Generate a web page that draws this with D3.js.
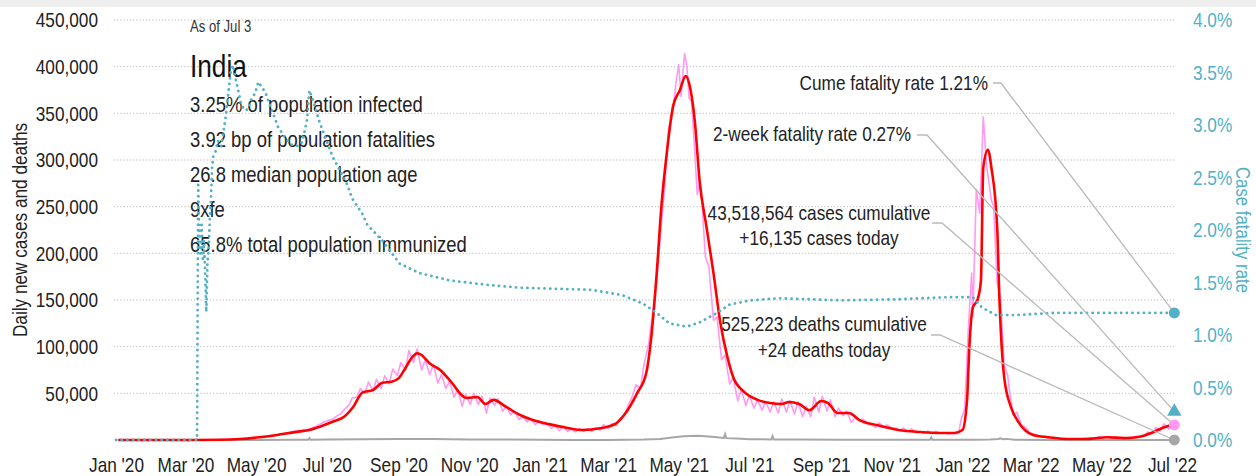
<!DOCTYPE html>
<html>
<head>
<meta charset="utf-8">
<script src="https://cdn.jsdelivr.net/npm/d3@7"></script>
<style>
  html, body { margin: 0; padding: 0; background: #fff; }
  svg { display: block; font-family: "Liberation Sans", Arial, sans-serif; }
</style>
</head>
<body>
<svg id="chart" width="1256" height="476"></svg>
<script>
// ---- India: daily new cases (7-day average), raw daily cases, daily deaths, cumulative fatality rate ----
const avgCases = [
  ["2020-01-03",0],["2020-03-01",10],["2020-04-01",250],["2020-04-17",1000],["2020-05-04",3000],
  ["2020-05-19",5400],["2020-06-02",8200],["2020-06-16",10700],["2020-06-25",14300],["2020-07-06",19600],
  ["2020-07-16",25000],["2020-07-24",35700],["2020-08-01",51000],["2020-08-10",53600],["2020-08-18",61400],
  ["2020-08-26",62500],["2020-09-01",66000],["2020-09-06",75000],["2020-09-13",89000],["2020-09-17",93000],
  ["2020-09-20",91800],["2020-09-28",82000],["2020-10-07",75000],["2020-10-15",64500],["2020-10-30",45000],
  ["2020-11-08",46000],["2020-11-15",38600],["2020-11-22",43000],["2020-12-03",35400],["2020-12-15",26800],
  ["2020-12-26",21400],["2021-01-09",17000],["2021-01-24",13200],["2021-02-07",10700],["2021-02-22",12500],
  ["2021-03-08",17900],["2021-03-15",27000],["2021-03-26",50000],["2021-04-03",72000],["2021-04-07",107000],
  ["2021-04-12",179000],["2021-04-16",250000],["2021-04-21",311000],["2021-04-26",357000],["2021-05-02",375000],
  ["2021-05-07",390000],["2021-05-10",382000],["2021-05-15",340000],["2021-05-19",278000],["2021-05-25",228000],
  ["2021-05-31",179000],["2021-06-06",125000],["2021-06-12",89000],["2021-06-17",67500],["2021-06-26",52000],
  ["2021-07-08",43000],["2021-07-19",39600],["2021-07-29",38600],["2021-08-04",40700],["2021-08-13",38600],
  ["2021-08-22",32000],["2021-09-01",41800],["2021-09-07",39600],["2021-09-15",29000],["2021-09-25",29000],
  ["2021-10-04",21400],["2021-10-19",16000],["2021-11-07",10700],["2021-11-25",8600],["2021-12-13",7500],
  ["2021-12-25",7500],["2022-01-01",10700],["2022-01-05",43000],["2022-01-07",100000],["2022-01-10",142000],
  ["2022-01-14",150000],["2022-01-17",171000],["2022-01-19",292000],["2022-01-23",311000],["2022-01-26",292000],
  ["2022-01-31",228000],["2022-02-02",150000],["2022-02-06",68000],["2022-02-12",35000],["2022-02-18",20000],
  ["2022-03-03",5400],["2022-03-16",3000],["2022-04-05",1000],["2022-04-21",1200],["2022-05-06",3000],
  ["2022-05-21",2000],["2022-06-03",3500],["2022-06-15",8600],["2022-06-25",14000],["2022-07-03",16500]
];

const dailyCases = [
  ["2020-01-03",0],["2020-03-01",0],["2020-03-20",60],["2020-04-01",440],["2020-04-08",600],["2020-04-15",1000],
  ["2020-04-22",1400],["2020-04-29",1800],["2020-05-04",3600],["2020-05-07",3300],["2020-05-11",4200],
  ["2020-05-14",3800],["2020-05-18",5200],["2020-05-21",5600],["2020-05-25",6900],["2020-05-28",7200],
  ["2020-06-01",8400],["2020-06-04",9800],["2020-06-08",9900],["2020-06-11",10900],["2020-06-15",11500],
  ["2020-06-18",13000],["2020-06-22",14800],["2020-06-25",16900],["2020-06-29",19400],["2020-07-02",21000],
  ["2020-07-06",22200],["2020-07-09",25000],["2020-07-13",28000],["2020-07-16",32500],["2020-07-20",37000],
  ["2020-07-23",45000],["2020-07-27",46000],["2020-07-30",55000],["2020-08-03",50000],["2020-08-06",62000],
  ["2020-08-10",53000],["2020-08-13",65000],["2020-08-17",55000],["2020-08-20",69000],["2020-08-24",60000],
  ["2020-08-27",76000],["2020-08-31",69000],["2020-09-03",83000],["2020-09-07",75000],["2020-09-10",96000],
  ["2020-09-14",83000],["2020-09-17",97500],["2020-09-21",75000],["2020-09-24",86000],["2020-09-28",70000],
  ["2020-10-01",81000],["2020-10-05",61000],["2020-10-08",70000],["2020-10-12",55000],["2020-10-15",63000],
  ["2020-10-19",46000],["2020-10-22",54000],["2020-10-26",36000],["2020-10-29",49000],["2020-11-02",38000],
  ["2020-11-05",50000],["2020-11-09",38000],["2020-11-12",47000],["2020-11-16",29000],["2020-11-19",45000],
  ["2020-11-23",37000],["2020-11-26",44000],["2020-11-30",31000],["2020-12-03",36000],["2020-12-07",27000],
  ["2020-12-10",31000],["2020-12-14",22000],["2020-12-17",25000],["2020-12-21",19500],["2020-12-24",23000],
  ["2020-12-28",16500],["2020-12-31",20000],["2021-01-04",16500],["2021-01-07",18000],["2021-01-11",12500],
  ["2021-01-14",16000],["2021-01-18",10000],["2021-01-21",15000],["2021-01-25",9100],["2021-01-28",11700],
  ["2021-02-01",8600],["2021-02-04",12400],["2021-02-08",9100],["2021-02-11",12100],["2021-02-15",9100],
  ["2021-02-18",13200],["2021-02-22",10600],["2021-02-25",16500],["2021-03-01",12300],["2021-03-04",17400],
  ["2021-03-08",15400],["2021-03-11",23000],["2021-03-15",26000],["2021-03-18",36000],["2021-03-22",47000],
  ["2021-03-25",59000],["2021-03-29",56000],["2021-04-01",81000],["2021-04-05",103000],["2021-04-08",131000],
  ["2021-04-12",169000],["2021-04-15",217000],["2021-04-19",273000],["2021-04-22",332000],["2021-04-26",352000],
  ["2021-04-29",387000],["2021-05-01",402000],["2021-05-03",368000],["2021-05-06",414000],["2021-05-08",401000],
  ["2021-05-10",366000],["2021-05-12",363000],["2021-05-14",326000],["2021-05-17",263000],["2021-05-19",276000],
  ["2021-05-21",257000],["2021-05-24",196000],["2021-05-27",186000],["2021-05-31",128000],["2021-06-03",132000],
  ["2021-06-07",86000],["2021-06-10",91000],["2021-06-14",60000],["2021-06-17",67000],["2021-06-21",42000],
  ["2021-06-24",54000],["2021-06-28",37000],["2021-07-01",48000],["2021-07-05",34000],["2021-07-08",43000],
  ["2021-07-12",32000],["2021-07-15",41000],["2021-07-19",30000],["2021-07-22",41000],["2021-07-26",29000],
  ["2021-07-29",44000],["2021-08-02",30000],["2021-08-05",42000],["2021-08-09",28000],["2021-08-12",41000],
  ["2021-08-16",25000],["2021-08-19",36000],["2021-08-23",25000],["2021-08-26",46000],["2021-08-30",30000],
  ["2021-09-02",47000],["2021-09-06",31000],["2021-09-09",43000],["2021-09-13",25000],["2021-09-16",34000],
  ["2021-09-20",26000],["2021-09-23",31000],["2021-09-27",18800],["2021-09-30",23500],["2021-10-04",20800],
  ["2021-10-07",22400],["2021-10-11",18100],["2021-10-14",16900],["2021-10-18",13600],["2021-10-21",18400],
  ["2021-10-25",14300],["2021-10-28",16100],["2021-11-01",12500],["2021-11-04",12900],["2021-11-08",10100],
  ["2021-11-11",13000],["2021-11-15",8900],["2021-11-18",11900],["2021-11-22",7600],["2021-11-25",9100],
  ["2021-11-29",6900],["2021-12-02",9800],["2021-12-06",6800],["2021-12-09",9400],["2021-12-13",7300],
  ["2021-12-16",7900],["2021-12-20",6600],["2021-12-23",7400],["2021-12-27",6500],["2021-12-29",9200],
  ["2021-12-31",22700],["2022-01-03",33700],["2022-01-06",117000],["2022-01-09",179000],["2022-01-10",132000],
  ["2022-01-13",268000],["2022-01-16",243000],["2022-01-19",346000],["2022-01-22",292000],["2022-01-26",257000],
  ["2022-01-28",250000],["2022-01-31",168000],["2022-02-03",150000],["2022-02-06",80000],["2022-02-09",70000],
  ["2022-02-11",50000],["2022-02-14",27000],["2022-02-17",30000],["2022-02-21",16000],["2022-02-24",14000],
  ["2022-02-28",8000],["2022-03-03",6600],["2022-03-08",4500],["2022-03-11",4200],["2022-03-15",2500],
  ["2022-03-18",2500],["2022-03-22",1600],["2022-03-25",1700],["2022-03-29",1300],["2022-04-01",1300],
  ["2022-04-05",800],["2022-04-08",1100],["2022-04-12",800],["2022-04-15",1000],["2022-04-19",1200],
  ["2022-04-22",2400],["2022-04-26",2500],["2022-04-29",3400],["2022-05-03",2600],["2022-05-06",3500],
  ["2022-05-10",2300],["2022-05-13",2800],["2022-05-17",1600],["2022-05-20",2300],["2022-05-24",1700],
  ["2022-05-27",2700],["2022-05-31",2300],["2022-06-03",4000],["2022-06-07",3700],["2022-06-10",8300],
  ["2022-06-14",6600],["2022-06-17",13200],["2022-06-21",9900],["2022-06-24",17300],["2022-06-28",11800],
  ["2022-07-01",17100],["2022-07-03",16135]
];

const dailyDeaths = [
  ["2020-01-03",0],["2020-03-12",1],["2020-04-01",20],["2020-05-01",70],["2020-06-01",200],["2020-06-15",340],
  ["2020-06-16",2003],["2020-06-17",340],["2020-07-01",500],["2020-08-01",800],["2020-09-01",1000],
  ["2020-09-15",1200],["2020-10-01",1100],["2020-11-01",550],["2020-12-01",480],["2021-01-01",250],
  ["2021-02-01",110],["2021-03-01",110],["2021-04-01",450],["2021-04-15",1200],["2021-04-25",2800],
  ["2021-05-05",3900],["2021-05-18",4500],["2021-06-01",3200],["2021-06-09",2200],["2021-06-10",6148],
  ["2021-06-11",2000],["2021-06-20",1500],["2021-07-01",900],["2021-07-20",600],["2021-07-21",3998],
  ["2021-07-22",600],["2021-08-15",450],["2021-09-15",300],["2021-10-15",200],["2021-11-15",300],
  ["2021-12-04",300],["2021-12-05",2796],["2021-12-06",300],["2021-12-20",250],["2022-01-10",150],
  ["2022-01-25",600],["2022-02-01",1100],["2022-02-03",1700],["2022-02-05",900],["2022-02-08",1200],
  ["2022-02-15",300],["2022-03-15",100],["2022-04-15",30],["2022-05-15",25],["2022-06-15",20],["2022-07-03",24]
];

// cumulative case fatality rate, percent
const cumeFatalityRate = [
  ["2020-01-01",0],["2020-03-11",0],["2020-03-12",2.43],["2020-03-13",1.9],["2020-03-14",1.75],["2020-03-15",2.05],
  ["2020-03-16",1.7],["2020-03-17",1.9],["2020-03-18",1.6],["2020-03-19",1.22],["2020-03-20",1.7],["2020-03-21",1.8],
  ["2020-03-22",2.1],["2020-03-23",2.3],["2020-03-24",2.6],["2020-03-25",2.7],["2020-03-27",2.75],["2020-03-29",2.85],
  ["2020-04-01",2.8],["2020-04-03",2.95],["2020-04-05",3.1],["2020-04-07",3.3],["2020-04-09",3.5],["2020-04-11",3.57],
  ["2020-04-13",3.45],["2020-04-15",3.36],["2020-04-18",3.2],["2020-04-21",3.14],["2020-04-24",3.15],["2020-04-27",3.25],
  ["2020-04-30",3.3],["2020-05-03",3.41],["2020-05-06",3.36],["2020-05-09",3.31],["2020-05-14",3.16],["2020-05-20",2.98],
  ["2020-05-26",2.88],["2020-06-01",2.81],["2020-06-06",2.8],["2020-06-10",2.84],["2020-06-14",3.05],["2020-06-16",3.33],
  ["2020-06-19",3.24],["2020-06-25",3.02],["2020-07-06",2.7],["2020-07-18",2.45],["2020-07-23",2.3],["2020-08-01",2.15],
  ["2020-08-05",2.05],["2020-08-18",1.9],["2020-09-02",1.68],["2020-09-19",1.59],["2020-10-15",1.52],["2020-11-15",1.48],
  ["2020-12-15",1.45],["2021-01-15",1.44],["2021-02-15",1.43],["2021-03-13",1.38],["2021-03-31",1.3],["2021-04-12",1.21],
  ["2021-04-23",1.11],["2021-05-08",1.08],["2021-05-19",1.12],["2021-06-03",1.21],["2021-06-14",1.29],["2021-07-02",1.33],
  ["2021-07-26",1.35],["2021-09-18",1.33],["2021-11-07",1.34],["2021-12-19",1.36],["2022-01-10",1.36],["2022-01-18",1.26],
  ["2022-01-30",1.19],["2022-02-16",1.19],["2022-03-21",1.21],["2022-07-03",1.21]
];

const caseTicks = [50000, 100000, 150000, 200000, 250000, 300000, 350000, 400000, 450000];
const rateTicks = [0, 0.5, 1, 1.5, 2, 2.5, 3, 3.5, 4];

const country = "India";
const asOfLabel = "As of Jul 3";
const statLines = [
  "3.25% of population infected",
  "3.92 bp of population fatalities",
  "26.8 median population age",
  "9xfe",
  "65.8% total population immunized"
];
const latestDate = "2022-07-03";
const cumeRate = 1.21;
const twoWeekRate = 0.27;
const casesCumulative = 43518564;
const casesToday = 16135;
const deathsCumulative = 525223;
const deathsToday = 24;

// ---- drawing ----
const parse = d3.utcParse("%Y-%m-%d");
const toPts = arr => arr.map(([d, v]) => ({ date: parse(d), value: v }));

const svg = d3.select("#chart");
const W = 1256;
const plot = { left: 114, right: 1175, top: 20, bottom: 440 };
const NARROW = "scale(0.82,1)";   // condensed lettering

const x = d3.scaleUtc()
  .domain([parse("2020-01-01"), parse("2022-07-01")])
  .range([116, 1172]);
const yCases = d3.scaleLinear().domain([0, 450000]).range([plot.bottom, plot.top]);
const yRate = d3.scaleLinear().domain([0, 4]).range([plot.bottom, plot.top]);

const TEAL = "#52b1c7";
const PINK = "#ff99f2";
const RED = "#ff0000";
const GREY = "#a6a6a6";
const LEADER = "#b9b9b9";
const INK = "#222";

function label(px, py, str, size, opts = {}) {
  return svg.append("text")
    .attr("transform", `translate(${px},${py}) ${opts.rotate ? `rotate(${opts.rotate})` : ""} ${NARROW}`)
    .attr("text-anchor", opts.anchor || "start")
    .attr("font-size", size)
    .attr("fill", opts.color || INK)
    .text(str);
}

// top band
svg.append("rect").attr("x", 0).attr("y", 0).attr("width", W).attr("height", 7).attr("fill", "#efefef");

// horizontal grid
svg.append("g").selectAll("line").data(caseTicks).join("line")
  .attr("x1", plot.left).attr("x2", plot.right)
  .attr("y1", d => yCases(d)).attr("y2", d => yCases(d))
  .attr("stroke", "#b8b8b8").attr("stroke-width", 1).attr("stroke-dasharray", "1.2,2");

// left axis
const leftAxis = d3.axisLeft(yCases).tickValues(caseTicks).tickFormat(d3.format(",")).tickSize(0).tickPadding(0);
const gl = svg.append("g").attr("transform", "translate(98,0)").call(leftAxis);
gl.select(".domain").remove();
gl.selectAll("text").attr("font-size", 21).attr("fill", INK).attr("font-family", null).attr("transform", NARROW);

// right axis
const rightAxis = d3.axisRight(yRate).tickValues(rateTicks).tickFormat(d => d3.format(".1f")(d) + "%").tickSize(0).tickPadding(0);
const gr = svg.append("g").attr("transform", "translate(1193,0)").call(rightAxis);
gr.select(".domain").remove();
gr.selectAll("text").attr("font-size", 21).attr("fill", TEAL).attr("font-family", null).attr("transform", NARROW);

// bottom axis
const bottomAxis = d3.axisBottom(x).ticks(d3.utcMonth.every(2)).tickFormat(d3.utcFormat("%b '%y")).tickSize(0).tickPadding(0);
const gb = svg.append("g").attr("transform", "translate(0,472)").call(bottomAxis);
gb.select(".domain").remove();
gb.selectAll("text").attr("font-size", 21).attr("fill", INK).attr("font-family", null)
  .attr("y", 0).attr("dy", 0).attr("transform", NARROW);

// axis titles
label(27, 230, "Daily new cases and deaths", 21, { anchor: "middle", rotate: -90 });
label(1236, 230, "Case fatality rate", 20.5, { anchor: "middle", rotate: 90, color: TEAL });

// header text
label(190, 32, asOfLabel, 16, { color: "#333" });
label(190, 77, country, 32, { color: "#111" });
statLines.forEach((s, i) => label(190, 112 + i * 35, s, 22.5));

// series
const lineCases = d3.line().x(d => x(d.date)).y(d => yCases(d.value));
const lineRate = d3.line().x(d => x(d.date)).y(d => yRate(d.value));

svg.append("path").datum(toPts(dailyDeaths)).attr("d", lineCases)
  .attr("fill", "none").attr("stroke", GREY).attr("stroke-width", 2);
svg.append("path").datum(toPts(dailyCases)).attr("d", lineCases)
  .attr("fill", "none").attr("stroke", PINK).attr("stroke-width", 1.6).attr("stroke-linejoin", "round");
svg.append("path").datum(toPts(avgCases)).attr("d", lineCases.curve(d3.curveMonotoneX))
  .attr("fill", "none").attr("stroke", RED).attr("stroke-width", 2.6).attr("stroke-linejoin", "round");
svg.append("path").datum(toPts(cumeFatalityRate)).attr("d", lineRate)
  .attr("fill", "none").attr("stroke", TEAL).attr("stroke-width", 2.8)
  .attr("stroke-linecap", "round").attr("stroke-dasharray", "0.1,5.6");

// end markers and leader lines
const xEnd = x(parse(latestDate));
const fmt = d3.format(",");
const markers = [
  { y: yRate(cumeRate), kind: "circle", color: TEAL },
  { y: yRate(twoWeekRate), kind: "triangle", color: TEAL },
  { y: yCases(casesToday), kind: "circle", color: PINK },
  { y: yCases(deathsToday), kind: "circle", color: GREY }
];

const notes = [
  { lines: [`Cume fatality rate ${cumeRate.toFixed(2)}%`], anchor: "end", tx: 988, base: [90], from: [993, 83, 1001], m: 0 },
  { lines: [`2-week fatality rate ${twoWeekRate.toFixed(2)}%`], anchor: "end", tx: 911, base: [141], from: [917, 135, 927], m: 1 },
  { lines: [`${fmt(casesCumulative)} cases cumulative`, `+${fmt(casesToday)} cases today`], anchor: "middle", tx: 819, base: [220, 245], from: [932, 223, 942], m: 2 },
  { lines: [`${fmt(deathsCumulative)} deaths cumulative`, `+${fmt(deathsToday)} deaths today`], anchor: "middle", tx: 824, base: [331, 357], from: [931, 335, 940], m: 3 }
];

notes.forEach(n => {
  const mk = markers[n.m];
  svg.append("path")
    .attr("d", `M${n.from[0]},${n.from[1]}H${n.from[2]}L${xEnd},${mk.y}`)
    .attr("fill", "none").attr("stroke", LEADER).attr("stroke-width", 1.3);
  n.lines.forEach((t, i) => label(n.tx, n.base[i], t, 21, { anchor: n.anchor }));
});

markers.forEach(mk => {
  if (mk.kind === "circle") {
    svg.append("circle").attr("cx", xEnd).attr("cy", mk.y).attr("r", 5.5).attr("fill", mk.color);
  } else {
    svg.append("path").attr("d", d3.symbol(d3.symbolTriangle, 90)())
      .attr("transform", `translate(${xEnd},${mk.y})`).attr("fill", mk.color);
  }
});
</script>
</body>
</html>
